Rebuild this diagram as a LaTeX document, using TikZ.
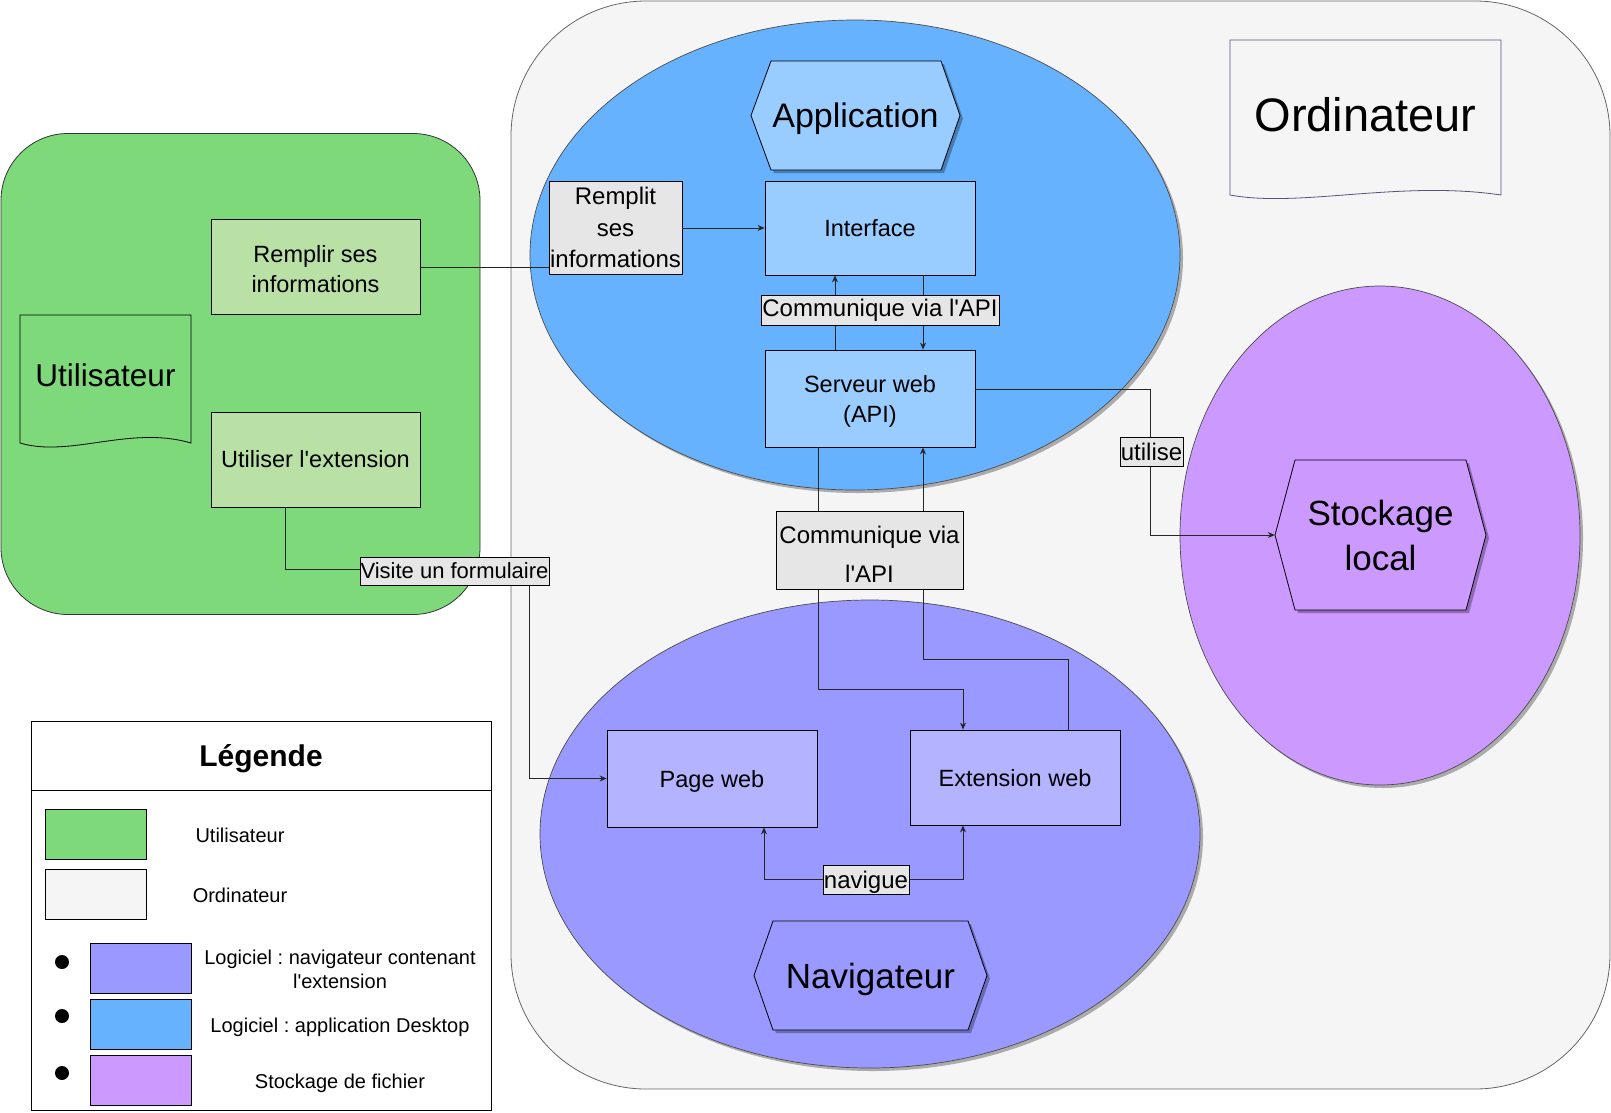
\documentclass[tikz,border=0pt]{standalone}
\usepackage{fontspec}
\setmainfont{Liberation Sans}
\usetikzlibrary{arrows.meta,shadows,shapes.geometric,calc}
\definecolor{ordifill}{HTML}{F5F5F5}
\definecolor{ordidraw}{HTML}{666666}
\definecolor{usergreen}{HTML}{7DD97A}
\definecolor{lightgreen}{HTML}{B9E0A5}
\definecolor{appblue}{HTML}{66B2FF}
\definecolor{lightblue}{HTML}{99CCFF}
\definecolor{navpurple}{HTML}{9999FF}
\definecolor{lightpurple}{HTML}{B3B3FF}
\definecolor{storeviolet}{HTML}{CC99FF}
\definecolor{lblgrey}{HTML}{E6E6E6}
\definecolor{docline}{HTML}{56517E}
\newcommand\aq{\textquotesingle}
\frenchspacing
\begin{document}
\frenchspacing
\begin{tikzpicture}[x=1pt,y=-1pt,
  lnk/.style={line width=0.9pt, draw=black!85},
  arr/.style={lnk, -{Stealth[length=7pt,width=6pt]}},
  darr/.style={lnk, {Stealth[length=7pt,width=6pt]}-{Stealth[length=7pt,width=6pt]}},
  boxA/.style={draw, line width=0.8pt, minimum width=209pt, minimum height=95pt, align=center, inner sep=2pt, font=\fontsize{23.5}{30}\selectfont},
  lbl/.style={draw, fill=lblgrey, line width=0.8pt, inner sep=0pt, align=center, font=\fontsize{24}{31.7}\selectfont},
  zone/.style={ellipse, draw=black!70, line width=0.7pt, inner sep=0pt},
  shd/.style={drop shadow={shadow xshift=3pt, shadow yshift=-3pt, opacity=0.3, fill=black}},
  hextxt/.style={font=\fontsize{35}{45}\selectfont, align=center},
  legtxt/.style={font=\fontsize{20}{23.5}\selectfont, align=center},
  swatch/.style={draw, line width=0.8pt, minimum width=101pt, minimum height=50pt, inner sep=0pt},
  bullet/.style={circle, fill=black, minimum size=14pt, inner sep=0pt},
  nodepth/.style={text depth=0pt}
]
\useasboundingbox (0,0) rectangle (1611,1112);

% containers
\node[draw=ordidraw, fill=ordifill, line width=0.8pt, rounded corners=135pt, minimum width=1099pt, minimum height=1088pt, inner sep=0pt] (ordi) at (1060.5,545) {};
\node[draw=black!80, fill=usergreen, line width=0.8pt, rounded corners=67pt, minimum width=479pt, minimum height=481pt, inner sep=0pt] (userzone) at (240.5,374) {};

% ellipses
\node[zone, fill=appblue, shd, minimum width=650pt, minimum height=470pt] (appzone) at (855,255) {};
\node[zone, fill=navpurple, shd, minimum width=660pt, minimum height=468pt] (navzone) at (870,834) {};
\node[zone, fill=storeviolet, shd, minimum width=400pt, minimum height=499pt] (storezone) at (1380,535.5) {};

% document shapes
\draw[docline, line width=0.8pt, fill=ordifill] (1230,40) -- (1501,40) -- (1501,195)
  .. controls (1400,180) and (1300,208) .. (1230,195) -- cycle;
\node[font=\fontsize{47}{55}\selectfont, anchor=base] (ordititle) at (1365.5,131) {Ordinateur};
\draw[black, line width=0.8pt, fill=usergreen] (20,315) -- (191,315) -- (191,443)
  .. controls (130,425) and (70,458) .. (20,443) -- cycle;
\node[font=\fontsize{31.5}{38}\selectfont, anchor=base] (usertitle) at (105.5,386) {Utilisateur};

% hexagons
\draw[black, line width=0.8pt, fill=lightblue, shd] (751,115.5) -- (771,61) -- (941,61) -- (960,115.5) -- (941,170) -- (771,170) -- cycle;
\node[hextxt, nodepth, font=\fontsize{34}{42}\selectfont] (app) at (855.5,115.5) {Application};
\draw[black, line width=0.8pt, fill=navpurple, shd] (754,975.5) -- (773,921) -- (968,921) -- (987,975.5) -- (968,1030) -- (773,1030) -- cycle;
\node[hextxt, nodepth] (navig) at (870.5,975.5) {Navigateur};
\draw[black, line width=0.8pt, fill=storeviolet, shd] (1275,535) -- (1295,460) -- (1466,460) -- (1486,535) -- (1466,610) -- (1295,610) -- cycle;
\node[hextxt, minimum width=211pt, minimum height=150pt, inner sep=0pt] (stock) at (1380.5,535) {Stockage\\local};

% boxes
\node[boxA, fill=lightgreen] (remplir) at (315.5,267) {\rule{0pt}{21pt}Remplir ses\\informations};
\node[boxA, fill=lightgreen] (utiliser) at (315.5,459.5) {Utiliser l\aq extension};
\node[boxA, fill=lightblue, minimum width=210pt, minimum height=94pt] (interface) at (870,228) {Interface};
\node[boxA, nodepth, fill=lightblue, minimum width=210pt, minimum height=97pt] (serveur) at (870,398.5) {Serveur web\\(API)};
\node[boxA, nodepth, fill=lightpurple, minimum width=210pt, minimum height=97pt] (page) at (712,778.5) {Page web};
\node[boxA, nodepth, fill=lightpurple, minimum width=210pt, minimum height=95pt] (ext) at (1015,777.5) {Extension web};

% label boxes
\node[lbl, minimum width=133pt, minimum height=93pt] (remplit) at (615.5,227.5) {Remplit\\ses\\informations};

% connectors
\draw[lnk] (remplir.east) -- (remplir.east -| remplit.west);
\draw[arr] (remplit.east |- interface.west) -- (interface.west);
\draw[arr] ([xshift=-35pt]serveur.north) -- ([xshift=-35pt]interface.south);
\draw[arr] ([xshift=53pt]interface.south) -- ([xshift=53pt]serveur.north);
\draw[arr] ([xshift=-52pt]serveur.south) -- ++(0,242) -| ([xshift=-52pt]ext.north);
\draw[arr] ([xshift=53pt]ext.north) -- ++(0,-70) -| ([xshift=53pt]serveur.south);
\draw[arr] ([yshift=9pt]serveur.east) -- ++(175,0) |- (stock.west);
\draw[arr] ([xshift=-30pt]utiliser.south) -- ++(0,62) -- ++(244,0) |- (page.west);
\draw[darr] ([xshift=52pt]page.south) -- ++(0,52) -| ([xshift=-52pt]ext.south);

\node[lbl, minimum width=238pt, minimum height=30pt] (api1) at (880,310) {Communique via l\aq API};
\node[lbl, minimum width=187pt, minimum height=78pt, font=\fontsize{24}{39}\selectfont] (api2) at (869.5,550) {\rule{0pt}{25pt}Communique via\\l\aq API};
\node[lbl, minimum width=63pt, minimum height=29pt] (utilise) at (1151.5,451.5) {utilise};
\node[lbl, minimum width=189pt, minimum height=28pt, font=\fontsize{22}{28}\selectfont] (visite) at (454.5,571) {Visite un formulaire};
\node[lbl, nodepth, minimum width=86pt, minimum height=29pt] (navigue) at (866,879.5) {navigue};

% legend
\node[draw=black, fill=white, line width=0.8pt, minimum width=460pt, minimum height=389pt, inner sep=0pt] (legend) at (261,915.5) {};
\draw[line width=0.8pt] (legend.west |- 0,790) -- (legend.east |- 0,790);
\node[nodepth, font=\fontsize{30}{36}\selectfont\bfseries] (legtitle) at (261,755) {Légende};
\node[swatch, fill=usergreen] (sw1) at (95.5,834) {};
\node[legtxt] (lt1) at (240,835) {Utilisateur};
\node[swatch, fill=ordifill] (sw2) at (95.5,894) {};
\node[legtxt] (lt2) at (240,895) {Ordinateur};
\node[bullet] (b1) at (62,962) {};
\node[bullet] (b2) at (62,1016) {};
\node[bullet] (b3) at (62,1073) {};
\node[swatch, fill=navpurple] (sw3) at (140.5,968) {};
\node[swatch, fill=appblue] (sw4) at (140.5,1024) {};
\node[swatch, fill=storeviolet] (sw5) at (140.5,1080) {};
\node[legtxt] (lt3) at (340,969.5) {Logiciel : navigateur contenant\\l\aq extension};
\node[legtxt, nodepth] (lt4) at (340,1025) {Logiciel : application Desktop};
\node[legtxt, nodepth] (lt5) at (340,1081) {Stockage de fichier};
\end{tikzpicture}
\end{document}
